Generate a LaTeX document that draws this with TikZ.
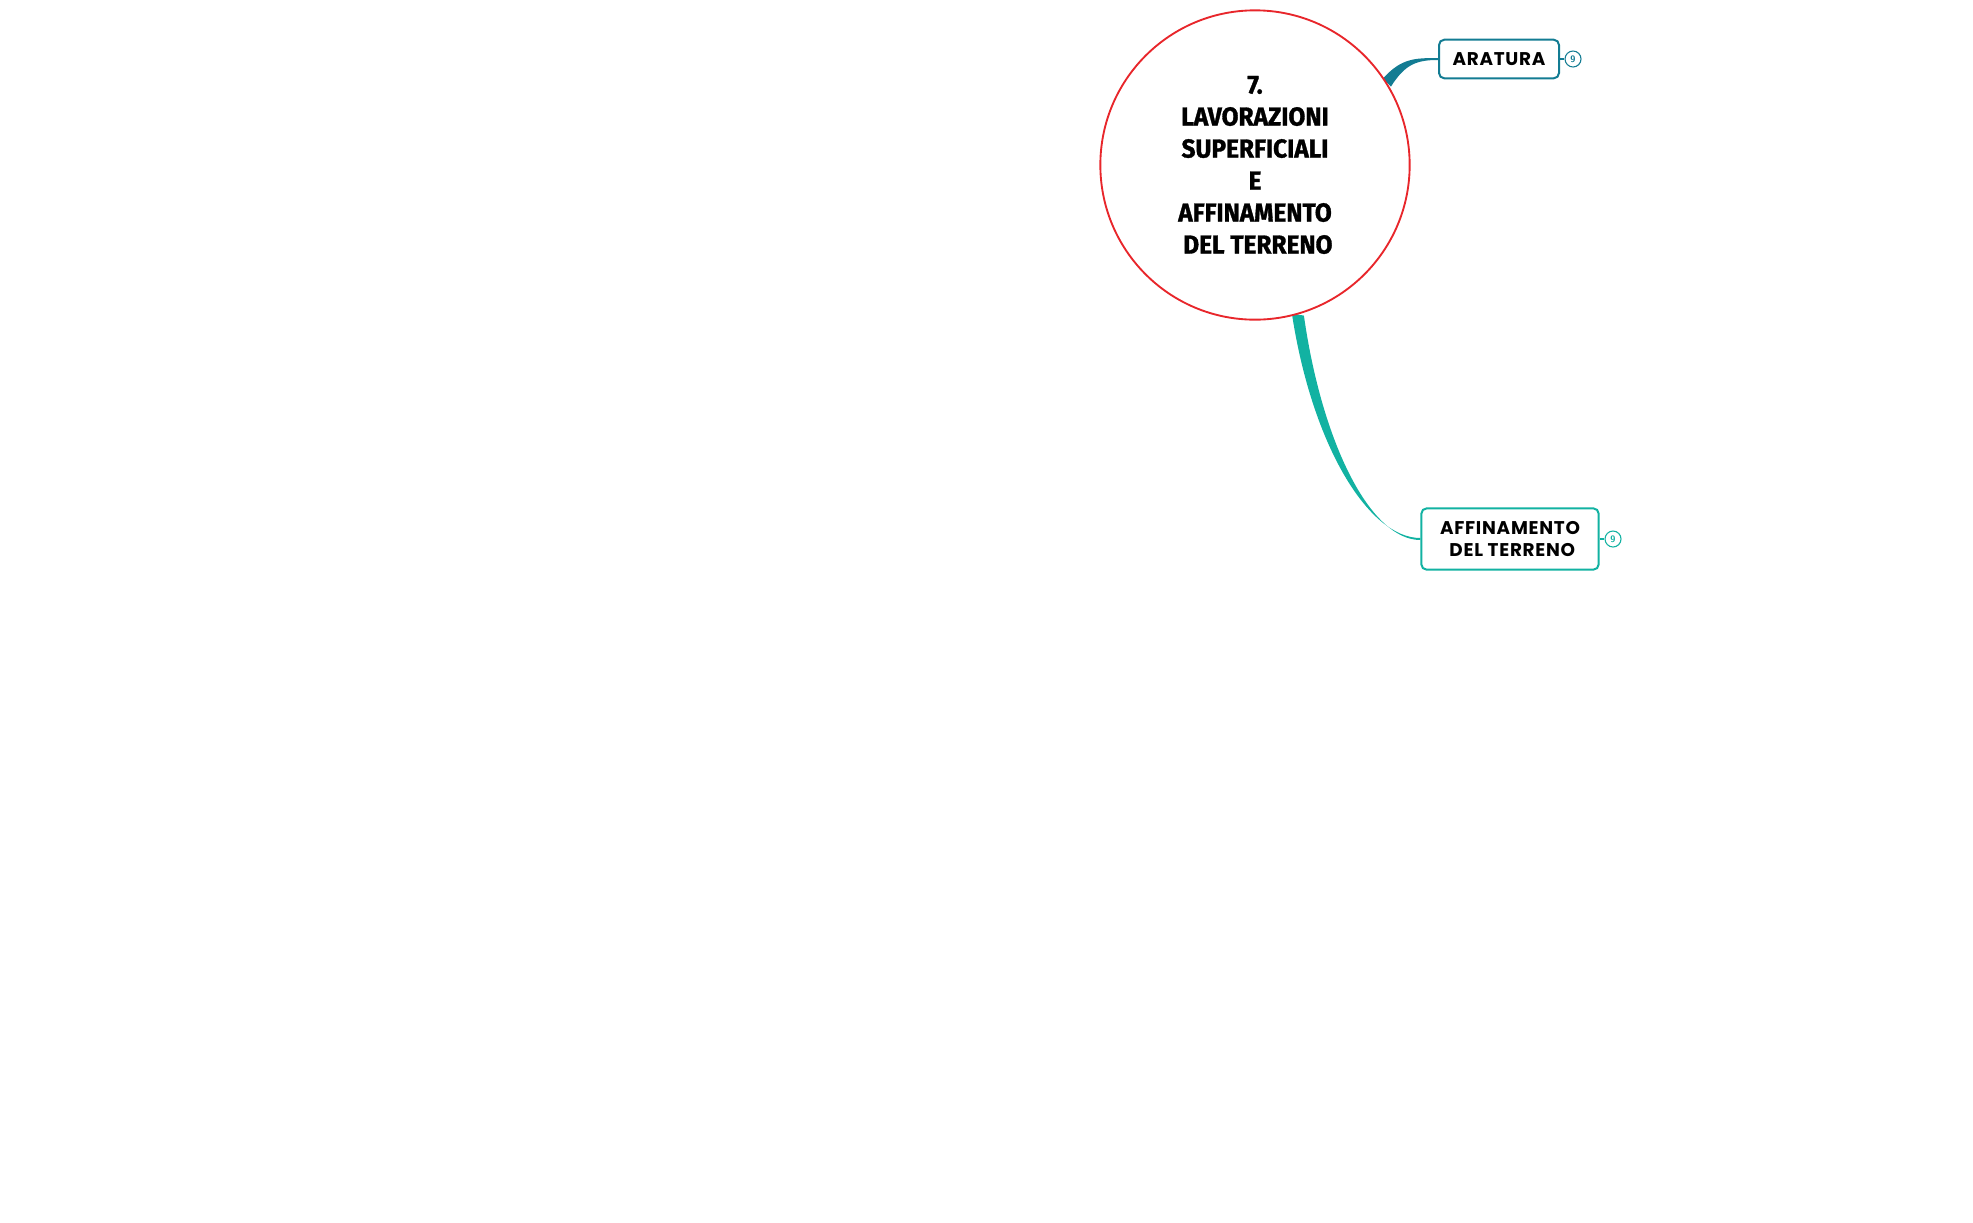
\documentclass[tikz,border=0pt]{standalone}
\usepackage{fontspec}
\usetikzlibrary{calc,backgrounds}
\newfontfamily\centralfont[FakeBold=1.2,FakeStretch=0.94]{Fira Sans}
\newfontfamily\subfont[LetterSpace=4]{Poppins}
\definecolor{rootred}{HTML}{E8262B}
\definecolor{aracol}{HTML}{137C93}
\definecolor{affcol}{HTML}{12B2A2}
\tikzset{
  rootnode/.style={circle, draw=rootred, line width=1.4pt, fill=white, minimum size=232pt, inner sep=0pt,
    align=center, font=\centralfont\bfseries\fontsize{19.5}{24}\selectfont},
  subbox/.style={draw=#1, rounded corners=4pt, line width=1.5pt, fill=white, align=center,
    font=\subfont\bfseries\fontsize{13.8}{16.5}\selectfont, inner sep=0pt},
  badge/.style={circle, draw=#1, line width=0.8pt, fill=white, minimum size=12pt, inner sep=0pt,
    text=#1, font=\sffamily\bfseries\fontsize{7}{7}\selectfont},
}
\begin{document}
\begin{tikzpicture}[x=0.75pt,y=-0.75pt]
\useasboundingbox (0,0) rectangle (1973,1222);
\node[rootnode] (c) at (1255,165) {7.\\LAVORAZIONI\\SUPERFICIALI\\E\\AFFINAMENTO\\\ DEL TERRENO};
\node[subbox=aracol, minimum width=90pt, minimum height=29pt] (ar) at (1499,59) {ARATURA};
\node[subbox=affcol, minimum width=133pt, minimum height=46pt] (af) at (1510,539) {AFFINAMENTO\\\ DEL TERRENO};
\node[badge=aracol] (arb) at (1573,59) {9};
\node[badge=affcol] (afb) at (1613,539) {9};
\draw[aracol, line width=0.8pt] (ar.east) -- (arb.west);
\draw[affcol, line width=0.8pt] (af.east) -- (afb.west);
\begin{scope}[on background layer]
\fill[aracol] ($(c.32)+(-4,-4)$) .. controls ($(c.32)+(14,-24)$) and ($(ar.west)+(-24,-1)$) .. ($(ar.west)+(0,-1)$)
  -- ($(ar.west)+(0,1)$) .. controls ($(ar.west)+(-22,1)$) and ($(c.32)+(18,-18)$) .. ($(c.32)+(4,4)$) -- cycle;
\fill[affcol] ($(c.-74)+(-6,-1)$) .. controls ($(c.-74)+(14,130)$) and ($(af.west)+(-52,-1)$) .. ($(af.west)+(0,-1)$)
  -- ($(af.west)+(0,1)$) .. controls ($(af.west)+(-50,1)$) and ($(c.-74)+(24,128)$) .. ($(c.-74)+(6,1)$) -- cycle;
\end{scope}
\end{tikzpicture}
\end{document}
